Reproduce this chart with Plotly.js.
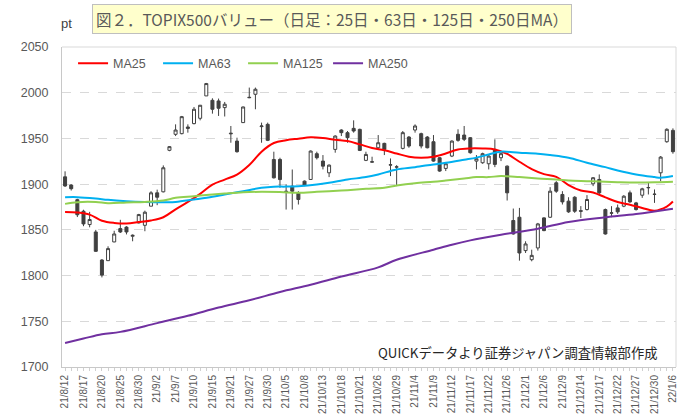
<!DOCTYPE html>
<html>
<head>
<meta charset="utf-8">
<script src="https://cdn.plot.ly/plotly-3.0.1.min.js"></script>
<style>
html,body{margin:0;padding:0;background:#fff;}
#chart{width:690px;height:414px;}
</style>
</head>
<body>
<div id="chart"></div>
<script>
// trading days (category axis)
var dates = [
"21/8/12","21/8/13","21/8/16","21/8/17","21/8/18","21/8/19","21/8/20","21/8/23","21/8/24","21/8/25","21/8/26","21/8/27","21/8/30","21/8/31",
"21/9/1","21/9/2","21/9/3","21/9/6","21/9/7","21/9/8","21/9/9","21/9/10","21/9/13","21/9/14","21/9/15","21/9/16","21/9/17","21/9/21","21/9/22","21/9/24","21/9/27","21/9/28","21/9/29","21/9/30",
"21/10/1","21/10/4","21/10/5","21/10/6","21/10/7","21/10/8","21/10/11","21/10/12","21/10/13","21/10/14","21/10/15","21/10/18","21/10/19","21/10/20","21/10/21","21/10/22","21/10/25","21/10/26","21/10/27","21/10/28","21/10/29",
"21/11/1","21/11/2","21/11/4","21/11/5","21/11/8","21/11/9","21/11/10","21/11/11","21/11/12","21/11/15","21/11/16","21/11/17","21/11/18","21/11/19","21/11/22","21/11/24","21/11/25","21/11/26","21/11/29","21/11/30",
"21/12/1","21/12/2","21/12/3","21/12/6","21/12/7","21/12/8","21/12/9","21/12/10","21/12/13","21/12/14","21/12/15","21/12/16","21/12/17","21/12/20","21/12/21","21/12/22","21/12/23","21/12/24","21/12/27","21/12/28","21/12/29","21/12/30",
"22/1/4","22/1/5","22/1/6"];

var openV = [1908,1899,1883,1870.4,1855.8,1847.7,1817,1816.3,1836.8,1851.4,1853,1843,1857.6,1855,1875.9,1890.5,1891.6,1937,1954.5,1955.2,
1962.5,1966.2,1972,1996.5,1991.7,1991,1983.7,1955,1947.1,1967.3,1994.5,1998.3,1962.9,1965.4,1927,1927,1892.3,1897.8,1890.5,1903.3,
1905.1,1933.3,1925.2,1912.4,1938,1959.2,1956.3,1961,1959.9,1926,1924,1939.8,1944.6,1920.8,1918.6,1939.1,1951.5,1959.2,1955.2,1951.5,
1946.4,1928.9,1917.2,1930.7,1954.5,1953.7,1950.8,1925.2,1923.4,1922.3,1938,1928.9,1919.7,1860.2,1863.8,1827.3,1817.4,1830.2,1863.1,1863.8,
1901.5,1888.7,1881.4,1885.7,1871,1872.2,1900.4,1905.1,1872.2,1868.2,1874,1875.9,1890.5,1879.5,1887.9,1896,1888.7,1912.4,1946.4,1958.8];
var highV = [1914,1900,1884,1872,1869.7,1850,1818,1832,1849,1861,1854,1845,1867.5,1871,1892.3,1894,1920.5,1941.7,1965.4,1974.6,
1965.4,1984.4,1986.6,2010.7,1993.9,1993.6,1989.9,1963.6,1950.8,1984.8,2005.6,2005.6,1967.3,1967.3,1935.5,1928.9,1899.6,1916,1892.3,1904,
1936.9,1935.5,1931.8,1921.6,1953.4,1960,1958.1,1969.8,1960.7,1935.5,1930,1953.7,1945.3,1928.1,1920.8,1958.1,1952.6,1965.4,1956.3,1952.6,
1953.7,1929.6,1923.4,1947.9,1960,1963.6,1951.5,1931.8,1934.4,1931.8,1949,1934.4,1920.5,1873.3,1874,1837.5,1828.3,1857.6,1863.8,1896.7,
1903.3,1892.3,1885.7,1886.8,1876,1888,1907.7,1910.6,1873.3,1875.9,1877.7,1888,1893,1880.6,1896,1901.5,1894.2,1930.7,1961,1961];
var lowV = [1897,1893,1864,1854,1852.8,1826,1798,1816,1836.5,1846.6,1845,1837.5,1857,1848.5,1875.9,1877,1891,1936,1952.6,1954.5,
1956.3,1965.4,1969.8,1996.5,1977.1,1974.6,1974,1945.3,1934.4,1966.9,1994,1981.9,1945.3,1947.1,1906.2,1896,1872.2,1872.2,1877.7,1897.8,
1905,1927,1916.1,1907.7,1934.4,1952.6,1945.3,1956.3,1936.2,1925.2,1923.4,1938,1931.8,1908.8,1897.8,1938,1939.8,1956.3,1939.1,1939.1,
1924.5,1913.5,1914.3,1929.6,1946.4,1947.1,1933.3,1916.1,1922.3,1916.1,1918.6,1925.2,1882.1,1844.8,1816.3,1824.7,1815.6,1827.3,1848.5,1863.1,
1890.5,1877.7,1868.6,1868.6,1863,1871.1,1897.8,1888,1844.8,1863.8,1867.5,1874.8,1879.5,1871.1,1885,1888.7,1879.5,1903.3,1945.3,1933.3];
var closeV = [1898,1895,1866.5,1856.5,1861.3,1826.5,1800.5,1829.5,1845.5,1847.7,1847.7,1844,1866.7,1869.3,1890.5,1885.7,1917.9,1941,1959.2,1973.8,
1961,1981.9,1986.3,2010,1981.9,1983,1987.4,1955.6,1935.5,1984.4,1994.9,2003.8,1963.6,1947.9,1906.9,1905,1891.6,1892.3,1883.2,1898.9,
1936.2,1928.9,1919.7,1920.8,1952.6,1956.3,1950.8,1958.1,1936.9,1932.5,1924.5,1945.3,1938,1921.2,1918.9,1956.3,1941.7,1963.6,1941.7,1939.8,
1925.2,1914.3,1922.3,1947.1,1947.9,1949,1934.4,1927.8,1933.3,1930.7,1921.6,1933.3,1890.5,1845.5,1824.7,1834.6,1822.1,1856.5,1849.2,1892.3,
1892.3,1880.6,1869.7,1870.4,1870.4,1883.2,1907,1890.5,1845.5,1868.6,1869.7,1886.8,1880.6,1872.2,1894.9,1896.3,1889,1929.6,1960,1935.5];

// moving averages: day index -> value
var ma25At = [0,2,4,6,8,10,12,14,16,18,20,22,24,26,28,30,32,34,36,38,40,42,44,46,48,50,52,54,56,58,60,62,64,66,68,70,72,74,76,78,80,82,84,86,88,90,92,94,96,98,99];
var ma25 = [1869.5,1869,1866.7,1860,1857.6,1857,1858.5,1860.3,1863.8,1872.5,1880.5,1889.4,1899.5,1905,1910.5,1921,1935.5,1945,1948,1949.7,1951.3,1950.5,1948.5,1947.1,1943.5,1939.5,1937,1933.5,1930,1929,1930,1933.5,1938,1939.1,1939,1938,1933,1924.5,1916.5,1911,1908,1899,1893,1890.8,1885.5,1880.5,1877.5,1874,1871,1875.5,1881];
var ma63At = [0,2,5,7,10,13,16,18,21,24,26,29,32,34,36,38,41,43,46,49,51,54,57,60,62,65,67,69,71,74,77,79,82,85,88,90,93,96,97,99];
var ma63 = [1885.7,1885.8,1884.3,1882.8,1881.4,1880.6,1880.3,1880.5,1883.2,1886.1,1888.7,1892.3,1896,1897.2,1897.3,1897.8,1899.6,1901.5,1905.1,1907.7,1910.6,1916.1,1918.6,1921.6,1923.4,1926.7,1929,1932.5,1935.5,1934.4,1933.3,1931.8,1928.9,1923.4,1918.6,1915,1910.6,1907.7,1906.9,1908.8];
var ma125At = [0,2,5,7,10,13,16,18,21,24,26,29,32,35,38,41,43,46,49,52,54,57,60,62,65,67,69,71,74,77,80,82,85,88,90,93,96,99];
var ma125 = [1878.4,1880.3,1880.5,1879.2,1880,1880.6,1882.1,1885,1886.8,1888.7,1889.8,1891.2,1891.6,1891.3,1890.5,1891.6,1892.3,1893.4,1894.9,1896,1898.5,1901.1,1902.6,1904,1906.2,1907.7,1907.7,1908.8,1907.7,1906.2,1905.1,1904,1903.3,1902.6,1902.2,1901.8,1902,1902.6];
var ma250At = [0,3,6,9,15,20,25,30,35,40,45,51,54,60,63,66,71,77,82,88,93,99];
var ma250 = [1726.3,1731.1,1735.8,1738.4,1748,1756,1765,1773,1782,1790,1799,1809,1817.3,1828.3,1833.8,1838.5,1844.7,1851.3,1858.7,1863.8,1867.4,1873.2];

var tickText = dates.map(function(d,i){ return i % 3 === 0 ? d : ''; });

function pick(idx){ return idx.map(function(i){ return dates[i]; }); }

var FONT = '"Liberation Sans", Arial, "Noto Sans CJK JP", sans-serif';
var JP = '"Noto Sans CJK JP", "Liberation Sans", sans-serif';

var traces = [
 {type:'candlestick', x:dates, open:openV, high:highV, low:lowV, close:closeV, showlegend:false, hoverinfo:'skip',
  whiskerwidth:0,
  increasing:{line:{color:'#404040', width:1}, fillcolor:'#ffffff'},
  decreasing:{line:{color:'#404040', width:1}, fillcolor:'#404040'}},
 {type:'scatter', mode:'lines', name:'MA25', x:pick(ma25At), y:ma25, line:{color:'#ff0000', width:2, shape:'spline'}},
 {type:'scatter', mode:'lines', name:'MA63', x:pick(ma63At), y:ma63, line:{color:'#00b0f0', width:2, shape:'spline'}},
 {type:'scatter', mode:'lines', name:'MA125', x:pick(ma125At), y:ma125, line:{color:'#92d050', width:2, shape:'spline'}},
 {type:'scatter', mode:'lines', name:'MA250', x:pick(ma250At), y:ma250, line:{color:'#7030a0', width:2, shape:'spline'}}
];

var layout = {
 width:690, height:414,
 margin:{l:62, r:14, t:47, b:47},
 paper_bgcolor:'#ffffff', plot_bgcolor:'#ffffff',
 font:{family:FONT, color:'#595959', size:12},
 showlegend:true,
 legend:{orientation:'h', x:0.018, y:0.995, xanchor:'left', yanchor:'top', font:{family:FONT, size:12.5, color:'#595959'},
   itemwidth:30, entrywidth:40, entrywidthmode:'pixels', bgcolor:'rgba(0,0,0,0)', traceorder:'normal'},
 xaxis:{type:'category', categoryorder:'array', categoryarray:dates, range:[-0.5, 99.5],
   rangeslider:{visible:false}, tickmode:'array', tickvals:dates, ticktext:tickText,
   tickangle:-90, tickfont:{family:FONT, size:10, color:'#595959'},
   ticks:'outside', ticklen:3, tickcolor:'#d0d0d0', showgrid:false, zeroline:false,
   showline:true, linecolor:'#c8c8c8', linewidth:1, fixedrange:true},
 yaxis:{range:[1700,2050], dtick:50, tick0:1700, showgrid:true, gridcolor:'#d9d9d9', griddash:'dash', gridwidth:1,
   tickfont:{family:FONT, size:12.5, color:'#595959'}, ticks:'', ticklabelstandoff:10,
   showline:true, linecolor:'#c8c8c8', linewidth:1, zeroline:false, fixedrange:true},
 shapes:[
  {type:'line', xref:'paper', yref:'paper', x0:0, x1:1, y0:1, y1:1, line:{color:'#d9d9d9', width:1}},
  {type:'line', xref:'paper', yref:'paper', x0:1, x1:1, y0:0, y1:1, line:{color:'#d9d9d9', width:1}}
 ],
 annotations:[
  {xref:'paper', yref:'paper', x:-0.005, y:1.075, xanchor:'left', yanchor:'middle', showarrow:false,
   text:'pt', font:{family:FONT, size:13, color:'#404040'}},
  {xref:'paper', yref:'paper', x:0.049, y:1.0875, xanchor:'left', yanchor:'middle', showarrow:false,
   text:'図２．TOPIX500バリュー（日足：25日・63日・125日・250日MA）',
   font:{family:JP, size:15.5, color:'#595959'}, bgcolor:'#ffffcc', bordercolor:'#bfbfbf', borderwidth:1, borderpad:3},
  {xref:'paper', yref:'paper', x:0.974, y:0.045, xanchor:'right', yanchor:'middle', showarrow:false,
   text:'QUICKデータより証券ジャパン調査情報部作成', font:{family:JP, size:13.3, color:'#262626'}}
 ]
};

Plotly.newPlot('chart', traces, layout, {displayModeBar:false, staticPlot:true});
</script>
</body>
</html>
